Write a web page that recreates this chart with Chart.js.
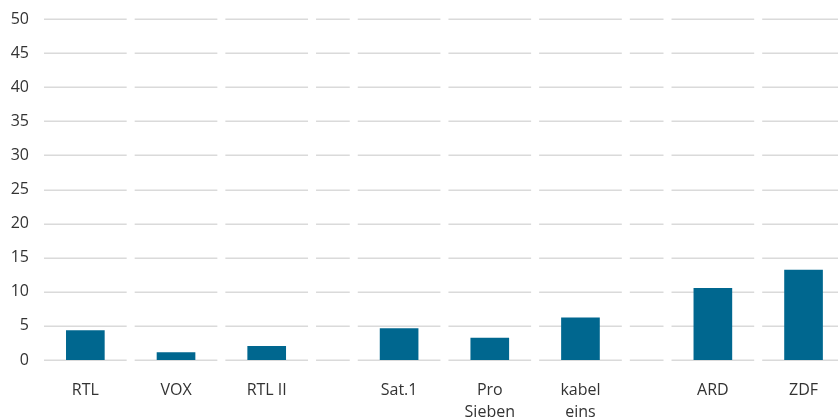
<!DOCTYPE html>
<html>
<head>
<meta charset="utf-8">
<script src="https://cdn.jsdelivr.net/npm/chart.js@4"></script>
<style>
  html, body { margin: 0; padding: 0; background: #fff; }
  #wrap { width: 838px; height: 419px; }
</style>
</head>
<body>
<div id="wrap"><canvas id="chart"></canvas></div>
<script>
// categories, split over three groups (private / private / public)
const categories = ['RTL', 'VOX', 'RTL II', 'Sat.1', ['Pro', 'Sieben'], ['kabel', 'eins'], 'ARD', 'ZDF'];
const groupOf = [0, 0, 0, 1, 1, 1, 2, 2];
const values = [4.3, 1.1, 2.0, 4.6, 3.2, 6.2, 10.5, 13.2];
const yMax = 50;
const yStep = 5;

const GAP = 0.46;       // width of the empty slot between groups, in category units
const SEG_GAP = 4;      // half the white gap between grid segments, px
const textColor = '#333333';
const gridColor = '#dadada';
const barColor = '#00678f';

// slot layout along the linear x axis
const slots = [];
const centers = [];
let pos = 0;
categories.forEach((c, i) => {
  if (i > 0 && groupOf[i] !== groupOf[i - 1]) {
    slots.push([pos, pos + GAP]);
    pos += GAP;
  }
  slots.push([pos, pos + 1]);
  centers.push(pos + 0.5);
  pos += 1;
});
const total = pos;

const segmentGrid = {
  id: 'segmentGrid',
  beforeDatasetsDraw(chart) {
    const { ctx, scales: { x, y }, chartArea } = chart;
    ctx.save();
    ctx.beginPath();
    ctx.rect(chartArea.left, 0, chartArea.right - chartArea.left, chart.height);
    ctx.clip();
    ctx.strokeStyle = gridColor;
    ctx.lineWidth = 1.5;
    y.ticks.forEach((t) => {
      const py = Math.round(y.getPixelForValue(t.value)) + 0.25;
      slots.forEach(([a, b]) => {
        ctx.beginPath();
        ctx.moveTo(x.getPixelForValue(a) + SEG_GAP, py);
        ctx.lineTo(x.getPixelForValue(b) - SEG_GAP, py);
        ctx.stroke();
      });
    });
    ctx.restore();
  }
};

new Chart(document.getElementById('chart'), {
  type: 'bar',
  data: {
    datasets: [{
      data: values.map((v, i) => ({ x: centers[i], y: v })),
      backgroundColor: barColor,
      barThickness: 38,
    }],
  },
  options: {
    responsive: true,
    maintainAspectRatio: false,
    animation: false,
    layout: { padding: { top: 19, right: 0, left: 0, bottom: 0 } },
    plugins: { legend: { display: false }, tooltip: { enabled: false } },
    scales: {
      x: {
        type: 'linear',
        offset: false,
        min: 0,
        max: total - 0.12,
        grid: { display: false, drawTicks: false },
        border: { display: false },
        afterBuildTicks: (scale) => { scale.ticks = centers.map((c) => ({ value: c })); },
        afterFit: (scale) => {
          scale.height = 59;
          scale.paddingLeft = 0;
          scale.paddingRight = 0;
        },
        ticks: {
          autoSkip: false,
          maxRotation: 0,
          padding: 19,
          color: textColor,
          font: { family: 'Open Sans', size: 16, lineHeight: 1.375 },
          callback: (value, index) => categories[index],
        },
      },
      y: {
        min: 0,
        max: yMax,
        grid: { display: false, drawTicks: false },
        border: { display: false },
        afterFit: (scale) => {
          scale.width = 40;
          scale.paddingTop = 0;
          scale.paddingBottom = 0;
        },
        ticks: {
          stepSize: yStep,
          padding: 11,
          color: textColor,
          font: { family: 'Open Sans', size: 16 },
        },
      },
    },
  },
  plugins: [segmentGrid],
});
</script>
</body>
</html>
